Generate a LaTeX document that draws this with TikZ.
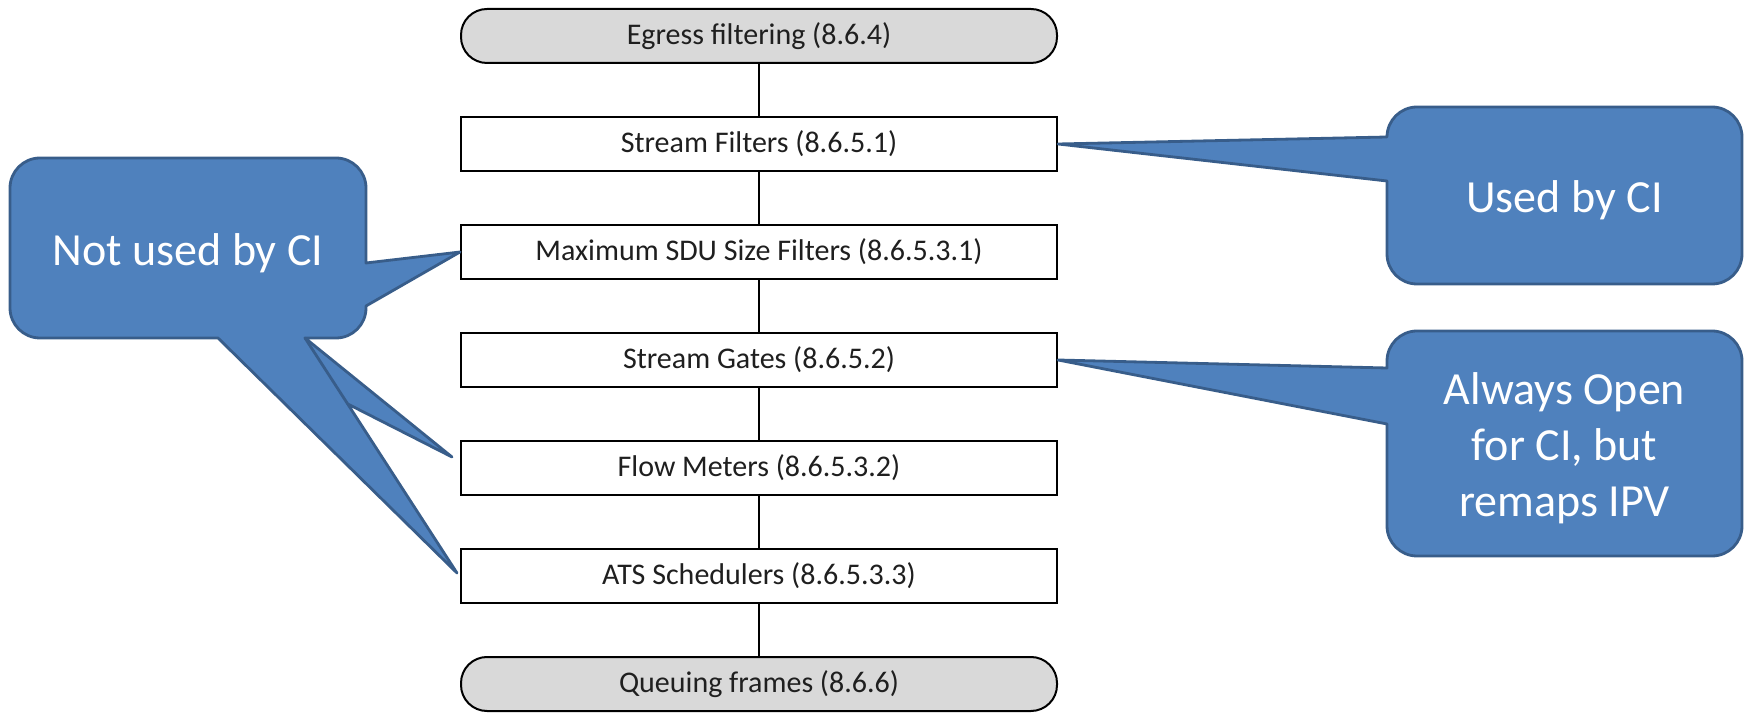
\documentclass[tikz,border=0pt]{standalone}
\usepackage{fontspec}
\setmainfont{Carlito}
\usetikzlibrary{calc}
\definecolor{callfill}{HTML}{4F81BD}
\definecolor{callline}{HTML}{385D8A}
\definecolor{pillfill}{HTML}{D9D9D9}
\begin{document}
\begin{tikzpicture}[x=0.5pt,y=0.5pt,
  stepbox/.style={draw=black, line width=1pt, fill=white, minimum width=298pt, minimum height=27pt, inner sep=0pt, font=\fontsize{15}{18}\selectfont, text=black!88},
  pill/.style={stepbox, fill=pillfill, rounded corners=13pt},
  link/.style={draw=black, line width=1pt},
  callout/.style={fill=callfill, draw=callline, line width=1.4pt, line join=round},
  calltext/.style={text=white, font=\fontsize{23}{28}\selectfont, align=center}]
\useasboundingbox (0,0) rectangle (1744,712);

% main chain
\node[pill]    (egress) at (759,676) {Egress filtering (8.6.4)};
\node[stepbox] (sf)     at (759,568) {Stream Filters (8.6.5.1)};
\node[stepbox] (sdu)    at (759,460) {Maximum SDU Size Filters (8.6.5.3.1)};
\node[stepbox] (gates)  at (759,352) {Stream Gates (8.6.5.2)};
\node[stepbox] (flow)   at (759,244) {Flow Meters (8.6.5.3.2)};
\node[stepbox] (ats)    at (759,136) {ATS Schedulers (8.6.5.3.3)};
\node[pill]    (queue)  at (759,28)  {Queuing frames (8.6.6)};

\draw[link] (egress) -- (sf);
\draw[link] (sf) -- (sdu);
\draw[link] (sdu) -- (gates);
\draw[link] (gates) -- (flow);
\draw[link] (flow) -- (ats);
\draw[link] (ats) -- (queue);

% left callout
\coordinate (fltip) at ($(flow.west)+(-8,11)$);
\coordinate (atstip) at ($(ats.west)+(-3,3)$);
\coordinate (lb1) at (218,374);
\coordinate (lb2) at (305,374);
\coordinate (lx) at (intersection of lb2--atstip and lb1--fltip);
\draw[callout] (40,554) -- (336,554) arc[start angle=90,end angle=0,radius=30]
  -- (366,449) -- (sdu.west) -- (366,406) -- (366,404)
  arc[start angle=0,end angle=-90,radius=30]
  -- (lb2) -- (fltip) -- (lx) -- (atstip) -- (lb1) -- (40,374)
  arc[start angle=270,end angle=180,radius=30] -- (10,524)
  arc[start angle=180,end angle=90,radius=30] -- cycle;
\draw[callout, fill=none, line cap=round] (lb2) -- (lx);
\node[calltext] (notused) at (188,459) {Not used by CI};

% top right callout
\draw[callout] (1417,605) -- (1712,605) arc[start angle=90,end angle=0,radius=30]
  -- (1742,458) arc[start angle=0,end angle=-90,radius=30]
  -- (1417,428) arc[start angle=270,end angle=180,radius=30]
  -- (1387,531) -- (sf.east) -- (1387,575)
  arc[start angle=180,end angle=90,radius=30] -- cycle;
\node[calltext] (used) at (1564.5,512) {Used by CI};

% bottom right callout
\draw[callout] (1417,381) -- (1712,381) arc[start angle=90,end angle=0,radius=30]
  -- (1742,186) arc[start angle=0,end angle=-90,radius=30]
  -- (1417,156) arc[start angle=270,end angle=180,radius=30]
  -- (1387,288) -- (gates.east) -- (1387,344) -- (1387,351)
  arc[start angle=180,end angle=90,radius=30] -- cycle;
\node[calltext] (always) at (1564.5,264) {Always Open\\for CI, but\\remaps IPV};
\end{tikzpicture}
\end{document}
